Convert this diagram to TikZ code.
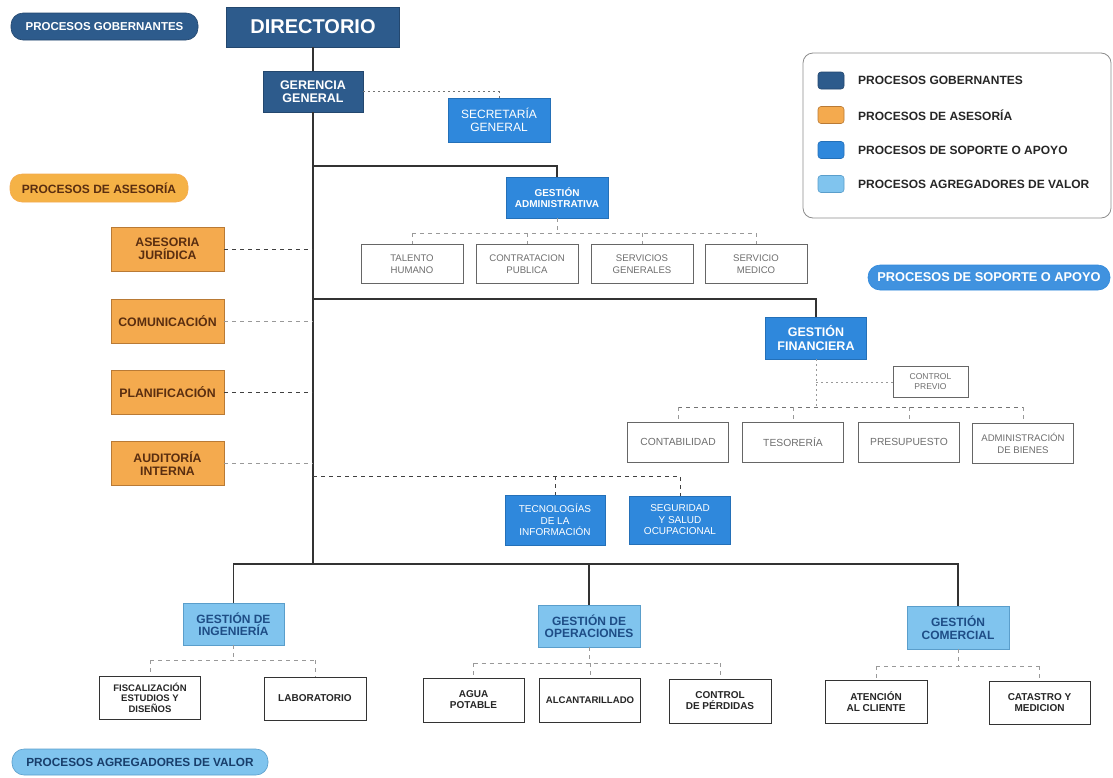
\documentclass[tikz,border=0pt]{standalone}
\usepackage{fontspec}
\setmainfont{Liberation Sans}
\usetikzlibrary{calc}
\definecolor{gob}{HTML}{2D5B8C}
\definecolor{gobd}{HTML}{23476E}
\definecolor{ase}{HTML}{F4AA4E}
\definecolor{ased}{HTML}{B97A35}
\definecolor{sop}{HTML}{2F88DC}
\definecolor{sopd}{HTML}{2470B8}
\definecolor{val}{HTML}{80C4EE}
\definecolor{vald}{HTML}{5A9ECB}
\definecolor{asetext}{HTML}{5A2E10}
\definecolor{valtext}{HTML}{1E4D86}
\definecolor{graytext}{HTML}{6E6E6E}
\definecolor{linec}{HTML}{333333}
\newcommand\fsz[2]{\fontsize{#1}{#2}\selectfont}
\tikzset{
  box/.style={inner sep=0pt, align=center, line width=0.7pt},
  gobbox/.style={box, fill=gob, draw=gobd, text=white, font=\fsz{12.5}{13.5}\bfseries},
  sopbox/.style={box, fill=sop, draw=sopd, text=white, font=\fsz{12}{12.5}},
  sopbold/.style={sopbox, font=\fsz{11}{12.5}\bfseries},
  asebox/.style={box, fill=ase, draw=ased, text=asetext, font=\fsz{12.3}{13.5}\bfseries},
  valbox/.style={box, fill=val, draw=vald, text=valtext, font=\fsz{12}{12.5}\bfseries},
  lightbox/.style={box, fill=white, draw=black!60, text=graytext, font=\fsz{9.6}{11.5}},
  darkbox/.style={box, fill=white, draw=black!80, line width=1pt, text=black!85, font=\fsz{10}{11}\bfseries},
  pill/.style={inner sep=0pt, rounded corners=12pt, line width=0.6pt},
  solidln/.style={draw=linec, line width=1.3pt},
  dotln/.style={draw=black!55, line width=1pt, dash pattern=on 2pt off 3pt},
  dashdark/.style={draw=black!75, line width=1pt, dash pattern=on 4pt off 4pt},
  dashlight/.style={draw=black!40, line width=0.8pt, dash pattern=on 4pt off 4pt},
  legsq/.style={rounded corners=3pt, minimum width=26, minimum height=17, inner sep=0pt, line width=0.6pt},
  legtext/.style={anchor=west, inner sep=0pt, text=black!85, font=\fsz{12}{13}\bfseries}
}
\begin{document}
\begin{tikzpicture}[x=1pt,y=-1pt]
\useasboundingbox (0,0) rectangle (1113,777);

% ---------- pills ----------
\node[pill, fill=gob, draw=gobd, text=white, font=\fsz{11.5}{12}\bfseries,
      minimum width=187, minimum height=27] (pg) at (104.5,26.5) {PROCESOS GOBERNANTES};
\node[pill, fill=ase!90!yellow, draw=ase, text=asetext, font=\fsz{12}{12}\bfseries,
      minimum width=178, minimum height=28] (pa) at (99,188) {PROCESOS DE ASESORÍA};
\node[pill, fill=sop!92!white, draw=sop, text=white, font=\fsz{12.8}{13}\bfseries,
      minimum width=242, minimum height=25] (ps) at (989,277.5) {PROCESOS DE SOPORTE O APOYO};
\node[pill, fill=val, draw=vald, text=valtext!80!black, font=\fsz{11.8}{12}\bfseries,
      minimum width=256, minimum height=26] (pv) at (140,762) {PROCESOS AGREGADORES DE VALOR};

% ---------- legend ----------
\node[draw=black!45, rounded corners=10pt, line width=0.8pt, minimum width=308, minimum height=165, inner sep=0pt] (leg) at (957,135.5) {};
\node[legsq, fill=gob, draw=gobd] (l1) at (831,80.5) {};
\node[legsq, fill=ase, draw=ased] (l2) at (831,115) {};
\node[legsq, fill=sop, draw=sopd] (l3) at (831,150) {};
\node[legsq, fill=val, draw=vald] (l4) at (831,184) {};
\node[legtext] (t1) at (858,80.5) {PROCESOS GOBERNANTES};
\node[legtext] (t2) at (858,115) {PROCESOS DE ASESORÍA};
\node[legtext] (t3) at (858,150) {PROCESOS DE SOPORTE O APOYO};
\node[legtext] (t4) at (858,184) {PROCESOS AGREGADORES DE VALOR};

% ---------- governing ----------
\node[gobbox, font=\fsz{20}{22}\bfseries, minimum width=173, minimum height=40] (dir) at (313,27) {DIRECTORIO};
\node[gobbox, minimum width=100, minimum height=41] (ger) at (313,91.5) {GERENCIA\\GENERAL};
\node[sopbox, minimum width=102, minimum height=44] (sec) at (499,120) {SECRETARÍA\\GENERAL};

% ---------- advisory ----------
\node[asebox, minimum width=113, minimum height=44] (aj) at (167.5,249) {ASESORIA\\JURÍDICA};
\node[asebox, minimum width=113, minimum height=44] (acom) at (167.5,321) {COMUNICACIÓN};
\node[asebox, minimum width=113, minimum height=44] (pla) at (167.5,392) {PLANIFICACIÓN};
\node[asebox, minimum width=113, minimum height=44] (aud) at (167.5,463.5) {AUDITORÍA\\INTERNA};

% ---------- support ----------
\node[sopbold, font=\fsz{10}{11.5}\bfseries, minimum width=102, minimum height=41] (adm) at (557,197.5) {GESTIÓN\\ADMINISTRATIVA};
\node[lightbox, minimum width=102, minimum height=39] (tal) at (412,264) {TALENTO\\HUMANO};
\node[lightbox, minimum width=102, minimum height=39] (con) at (527,264) {CONTRATACION\\PUBLICA};
\node[lightbox, minimum width=102, minimum height=39] (sg) at (642,264) {SERVICIOS\\GENERALES};
\node[lightbox, minimum width=102, minimum height=39] (med) at (756,264) {SERVICIO\\MEDICO};

\node[sopbold, font=\fsz{12.5}{13.5}\bfseries, minimum width=101, minimum height=42] (fin) at (816,338) {GESTIÓN\\FINANCIERA};
\node[lightbox, font=\fsz{8.5}{10}, minimum width=75, minimum height=31] (cp) at (930.5,382) {CONTROL\\PREVIO};
\node[lightbox, font=\fsz{10.3}{12}, minimum width=101, minimum height=40] (cont) at (678,442) {CONTABILIDAD};
\node[lightbox, font=\fsz{10.3}{12}, minimum width=101, minimum height=40] (tes) at (793,442) {TESORERÍA};
\node[lightbox, font=\fsz{10.3}{12}, minimum width=101, minimum height=40] (pre) at (909,442) {PRESUPUESTO};
\node[lightbox, font=\fsz{9.6}{12}, minimum width=101, minimum height=40] (bie) at (1023,443) {ADMINISTRACIÓN\\DE BIENES};

\node[sopbox, font=\fsz{10}{11.5}, minimum width=100, minimum height=50] (tec) at (555,520) {TECNOLOGÍAS\\DE LA\\INFORMACIÓN};
\node[sopbox, font=\fsz{10}{11.5}, minimum width=101, minimum height=48] (seg) at (680,520) {SEGURIDAD\\Y SALUD\\OCUPACIONAL};

% ---------- value ----------
\node[valbox, minimum width=101, minimum height=42] (ing) at (233.5,624) {GESTIÓN DE\\INGENIERÍA};
\node[valbox, minimum width=102, minimum height=42] (ops) at (589,626) {GESTIÓN DE\\OPERACIONES};
\node[valbox, minimum width=102, minimum height=43] (gc) at (958,627.5) {GESTIÓN\\COMERCIAL};

\node[darkbox, font=\fsz{9.5}{10.5}\bfseries, minimum width=101, minimum height=43] (fisc) at (150,697.5) {FISCALIZACIÓN\\ESTUDIOS Y\\DISEÑOS};
\node[darkbox, minimum width=102, minimum height=43] (lab) at (315,698.5) {LABORATORIO};
\node[darkbox, minimum width=101, minimum height=44] (agua) at (473.5,700) {AGUA\\POTABLE};
\node[darkbox, font=\fsz{9.6}{11}\bfseries, minimum width=101, minimum height=44] (alc) at (590,700) {ALCANTARILLADO};
\node[darkbox, minimum width=102, minimum height=44] (cper) at (720,701) {CONTROL\\DE PÉRDIDAS};
\node[darkbox, minimum width=102, minimum height=43] (ate) at (876,701.5) {ATENCIÓN\\AL CLIENTE};
\node[darkbox, minimum width=101, minimum height=43] (cat) at (1039.5,702.5) {CATASTRO Y\\MEDICION};

% ---------- junction coordinates ----------
\coordinate (j1) at (313,166);
\coordinate (j2) at (313,299);
\coordinate (j4) at (313,476);
\coordinate (hb) at (313,564);
\coordinate (ya) at (0,233);
\coordinate (yf) at (0,407);
\coordinate (yi) at (0,660);
\coordinate (yo) at (0,663);
\coordinate (yc) at (0,666);

% ---------- solid hierarchy ----------
\draw[solidln] (dir.south) -- (ger.north);
\draw[solidln] (ger.south) -- (hb);
\draw[solidln] (j1) -| (adm.north);
\draw[solidln] (j2) -| (fin.north);
\draw[solidln] (ing.north) |- (hb) -| (gc.north);
\draw[solidln] (ops.north) -- (ops.north |- hb);

% ---------- dotted / dashed links ----------
\draw[dotln] (ger.east) -| (sec.north);
\draw[dashdark] (aj.east) -- (aj.east -| j1);
\draw[dashlight] (acom.east) -- (acom.east -| j1);
\draw[dashdark] (pla.east) -- (pla.east -| j1);
\draw[dashlight] (aud.east) -- (aud.east -| j1);
\draw[dashdark] (j4) -| (seg.north);
\draw[dashdark] (tec.north |- j4) -- (tec.north);

% admin children
\draw[dashlight] (tal.north |- ya) -- (med.north |- ya);
\draw[dashlight] (adm.south) -- (adm.south |- ya);
\foreach \n in {tal,con,sg,med} \draw[dashlight] (\n.north |- ya) -- (\n.north);

% finance children
\draw[dotln, draw=black!40] (fin.south) -- (fin.south |- yf);
\draw[dotln, draw=black!40] (fin.south |- cp.west) -- (cp.west);
\draw[dashdark, draw=black!55] (cont.north |- yf) -- (bie.north |- yf);
\foreach \n in {cont,tes,pre,bie} \draw[dashlight] (\n.north |- yf) -- (\n.north);

% value children
\draw[dashlight] (fisc.north |- yi) -- (lab.north |- yi);
\draw[dashlight] (ing.south) -- (ing.south |- yi);
\foreach \n in {fisc,lab} \draw[dashlight] (\n.north |- yi) -- (\n.north);
\draw[dashlight] (agua.north |- yo) -- (cper.north |- yo);
\draw[dashlight] (ops.south) -- (ops.south |- yo);
\foreach \n in {agua,alc,cper} \draw[dashlight] (\n.north |- yo) -- (\n.north);
\draw[dashlight] (ate.north |- yc) -- (cat.north |- yc);
\draw[dashlight] (gc.south) -- (gc.south |- yc);
\foreach \n in {ate,cat} \draw[dashlight] (\n.north |- yc) -- (\n.north);
\end{tikzpicture}
\end{document}
